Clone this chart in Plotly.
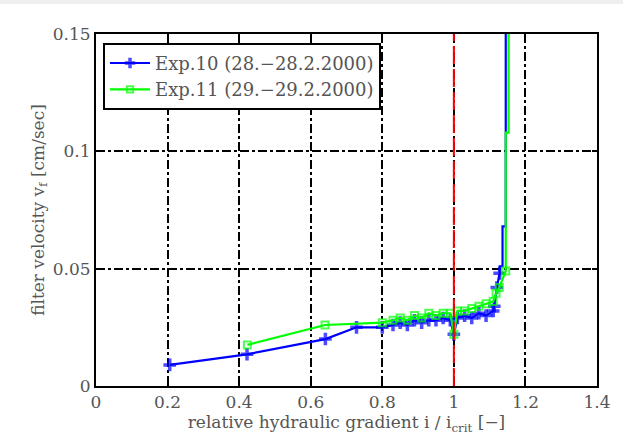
import plotly.graph_objects as go

# Exp.10 (28.-28.2.2000)
exp10_x = [0.206, 0.422, 0.641, 0.728, 0.80, 0.83, 0.85, 0.87, 0.89, 0.91, 0.93, 0.95, 0.97,
           0.99, 1.00, 1.01, 1.03, 1.05, 1.07, 1.09, 1.11, 1.113, 1.12, 1.128, 1.128, 1.136, 1.136, 1.145, 1.145]
exp10_y = [0.009, 0.0135, 0.020, 0.025, 0.025, 0.026, 0.027, 0.026, 0.028, 0.027, 0.028, 0.028, 0.029,
           0.028, 0.022, 0.029, 0.030, 0.029, 0.031, 0.030, 0.032, 0.034, 0.042, 0.048, 0.051, 0.051, 0.068, 0.068, 0.16]
exp10_measured = 24   # number of leading points drawn with a marker

# Exp.11 (29.-29.2.2000)
exp11_x = [0.423, 0.64, 0.80, 0.83, 0.85, 0.87, 0.89, 0.91, 0.93, 0.95, 0.97,
           0.99, 1.00, 1.01, 1.03, 1.05, 1.07, 1.09, 1.11, 1.118, 1.127, 1.145, 1.145, 1.153, 1.153]
exp11_y = [0.0175, 0.026, 0.027, 0.028, 0.029, 0.028, 0.030, 0.029, 0.031, 0.030, 0.031,
           0.031, 0.022, 0.032, 0.032, 0.033, 0.034, 0.035, 0.036, 0.0395, 0.042, 0.049, 0.108, 0.108, 0.16]
exp11_measured = 22

CRIT_RATIO = 1.0

x_ticks = [0, 0.2, 0.4, 0.6, 0.8, 1, 1.2, 1.4]
x_tick_labels = ["0", "0.2", "0.4", "0.6", "0.8", "1", "1.2", "1.4"]
y_ticks = [0, 0.05, 0.1, 0.15]
y_tick_labels = ["0", "0.05", "0.1", "0.15"]

FONT = "DejaVu Serif"
TXT = "#555555"


def marker_sizes(n_total, n_marked, size):
    return [size if i < n_marked else 0 for i in range(n_total)]


fig = go.Figure()

fig.add_trace(go.Scatter(
    x=exp10_x, y=exp10_y, mode="lines+markers", name="Exp.10 (28.\u221228.2.2000)",
    line=dict(color="#0000ff", width=2.2),
    marker=dict(symbol="cross-thin", size=marker_sizes(len(exp10_x), exp10_measured, 9),
                line=dict(color="#0000ff", width=3.5), color="#0000ff"),
    cliponaxis=True,
))
fig.add_trace(go.Scatter(
    x=exp11_x, y=exp11_y, mode="lines+markers", name="Exp.11 (29.\u221229.2.2000)",
    line=dict(color="#00ff00", width=2.2),
    marker=dict(symbol="square-open", size=marker_sizes(len(exp11_x), exp11_measured, 7),
                color="#00ff00", line=dict(color="#00ff00", width=2)),
    cliponaxis=True,
))

# critical gradient line
fig.add_shape(type="line", xref="x", yref="paper", x0=CRIT_RATIO, x1=CRIT_RATIO, y0=0, y1=1,
              line=dict(color="#ff0000", width=2, dash="18px,5px"), layer="above")

# top gray strip of the original image
fig.add_shape(type="rect", xref="paper", yref="paper", x0=-0.25, x1=1.1, y0=1.085, y1=1.12,
              fillcolor="#eeeeee", line=dict(width=0), layer="below")

axis_common = dict(
    showline=True, linecolor="black", linewidth=2, mirror="ticks",
    ticks="inside", ticklen=5, tickcolor="black", tickwidth=2,
    showgrid=True, gridcolor="black", gridwidth=1.5, griddash="dashdot",
    zeroline=False,
    tickfont=dict(family=FONT, size=17, color=TXT),
)

fig.update_xaxes(range=[0, 1.4], tickvals=x_ticks, ticktext=x_tick_labels,
                 title=dict(text="relative hydraulic gradient i / i<sub>crit</sub> [\u2212]",
                            font=dict(family=FONT, size=17, color=TXT), standoff=2),
                 **axis_common)
fig.update_yaxes(range=[0, 0.15], tickvals=y_ticks, ticktext=y_tick_labels,
                 title=dict(text="filter velocity v<sub>f</sub> [cm/sec]",
                            font=dict(family=FONT, size=17, color=TXT), standoff=4),
                 **axis_common)

fig.update_layout(
    width=623, height=445,
    margin=dict(l=96, r=23, t=34, b=59),
    paper_bgcolor="white", plot_bgcolor="white",
    showlegend=True,
    legend=dict(x=0.014, y=0.975, xanchor="left", yanchor="top",
                bgcolor="white", bordercolor="black", borderwidth=2,
                font=dict(family=FONT, size=18, color=TXT),
                tracegroupgap=0, itemwidth=40),
)

fig.write_html("out.html", config={"displayModeBar": False},
               post_script="document.body.style.margin='0';")
